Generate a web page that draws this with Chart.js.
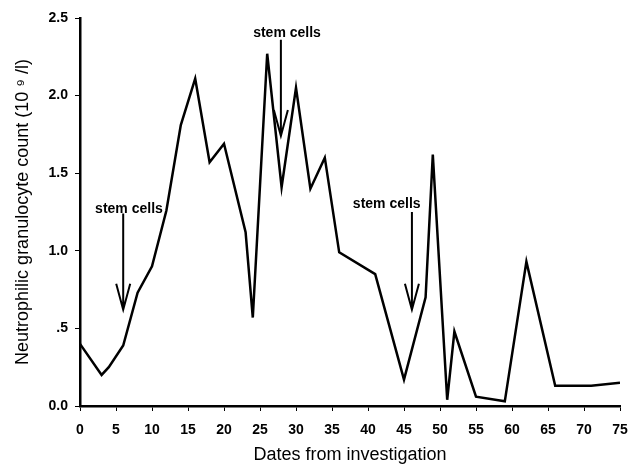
<!DOCTYPE html>
<html lang="en">
<head>
    <meta charset="UTF-8">
    <title>Neutrophilic granulocyte count</title>
    <script src="https://cdn.jsdelivr.net/npm/chart.js"></script>
    <style>
        html, body { margin: 0; padding: 0; background: #fff; }
        #wrap { width: 628px; height: 469px; }
    </style>
</head>
<body>
    <div id="wrap"><canvas id="chart"></canvas></div>

    <script>
        // Data
        const days = [0, 3, 4, 6, 8, 10, 12, 14, 16, 18, 20, 23, 24, 26, 28, 30, 32, 34, 36, 41, 45, 48, 49, 51, 52, 55, 59, 62, 66, 71, 75];
        const counts = [0.40, 0.20, 0.25, 0.39, 0.73, 0.90, 1.26, 1.81, 2.11, 1.57, 1.69, 1.12, 0.57, 2.27, 1.41, 2.05, 1.40, 1.60, 0.99, 0.85, 0.17, 0.70, 1.62, 0.04, 0.48, 0.06, 0.03, 0.93, 0.13, 0.13, 0.15];

        // "stem cells" markers (data units)
        const arrowDays = [6, 27.9, 46.1];
        const arrowTop = [1.24, 2.36, 1.25];
        const arrowTip = [0.62, 1.74, 0.62];
        const labelDays = [6.8, 28.75, 42.6];
        const labelLevels = [1.27, 2.40, 1.30];
        const labelText = 'stem cells';

        const xTicks = { min: 0, max: 75, step: 5 };
        const yTicks = { min: 0, max: 2.5, step: 0.5 };

        function yLabel(v) {
            if (v === 0.5) return '.5';
            return v.toFixed(1);
        }

        // draws arrows and text using the chart's scales
        const stemCells = {
            id: 'stemCells',
            afterDatasetsDraw(chart) {
                const ctx = chart.ctx;
                const xs = chart.scales.x, ys = chart.scales.y;
                ctx.save();
                ctx.strokeStyle = '#000';
                ctx.lineWidth = 2;
                arrowDays.forEach((d, i) => {
                    const x = xs.getPixelForValue(d);
                    const y0 = ys.getPixelForValue(arrowTop[i]);
                    const y1 = ys.getPixelForValue(arrowTip[i]);
                    ctx.beginPath();
                    ctx.moveTo(x, y0);
                    ctx.lineTo(x, y1);
                    ctx.moveTo(x - 7, y1 - 26);
                    ctx.lineTo(x, y1);
                    ctx.lineTo(x + 7, y1 - 26);
                    ctx.stroke();
                });
                ctx.fillStyle = '#000';
                ctx.font = 'bold 14px "Liberation Sans", Arial, sans-serif';
                ctx.textAlign = 'center';
                ctx.textBaseline = 'middle';
                labelDays.forEach((d, i) => {
                    ctx.fillText(labelText, xs.getPixelForValue(d), ys.getPixelForValue(labelLevels[i]));
                });
                ctx.restore();
            }
        };

        const tickFont = { family: '"Liberation Sans", Arial, sans-serif', size: 14, weight: 'bold' };
        const titleFont = { family: '"Liberation Sans", Arial, sans-serif', size: 18 };

        new Chart(document.getElementById('chart'), {
            type: 'line',
            data: {
                datasets: [{
                    data: days.map((d, i) => ({ x: d, y: counts[i] })),
                    borderColor: '#000',
                    borderWidth: 2.5,
                    pointRadius: 0,
                    tension: 0,
                    fill: false
                }]
            },
            options: {
                responsive: true,
                maintainAspectRatio: false,
                animation: false,
                layout: { padding: { top: 18, right: 0, left: 0, bottom: 0 } },
                plugins: { legend: { display: false }, tooltip: { enabled: false } },
                scales: {
                    x: {
                        type: 'linear',
                        min: xTicks.min,
                        max: xTicks.max,
                        ticks: { stepSize: xTicks.step, color: '#000', font: tickFont, padding: 11, maxRotation: 0 },
                        grid: { drawOnChartArea: false, drawTicks: true, tickLength: 5, color: '#000', lineWidth: 1 },
                        border: { display: true, color: '#000', width: 2.5 },
                        title: { display: true, text: 'Dates from investigation', color: '#000', font: titleFont, padding: { top: 4, bottom: 3 } },
                        afterFit(s) {
                            s.height = 63;
                            s.paddingRight = 8; // keep plot right edge at 620
                        }
                    },
                    y: {
                        min: yTicks.min,
                        max: yTicks.max,
                        ticks: { stepSize: yTicks.step, color: '#000', font: tickFont, padding: 7, callback: v => yLabel(v) },
                        grid: { drawOnChartArea: false, drawTicks: true, tickLength: 5, color: '#000', lineWidth: 1 },
                        border: { display: true, color: '#000', width: 2.5 },
                        title: { display: true, text: 'Neutrophilic granulocyte count (10 ⁹ /l)', color: '#000', font: titleFont, padding: { top: 12, bottom: 4 } },
                        afterFit(s) { s.width = 80; }
                    }
                }
            },
            plugins: [stemCells]
        });
    </script>
</body>
</html>
